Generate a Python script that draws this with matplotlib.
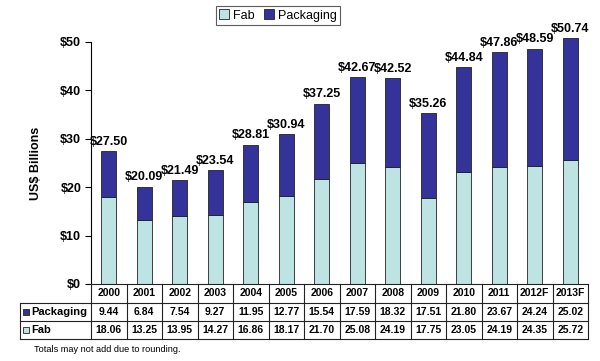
import matplotlib
matplotlib.use("Agg")
import matplotlib.pyplot as plt
from matplotlib.patches import Rectangle
from matplotlib.lines import Line2D

plt.rcParams['font.family'] = ['Liberation Sans', 'DejaVu Sans']

years = ["2000", "2001", "2002", "2003", "2004", "2005", "2006", "2007",
         "2008", "2009", "2010", "2011", "2012F", "2013F"]
packaging = [9.44, 6.84, 7.54, 9.27, 11.95, 12.77, 15.54, 17.59, 18.32,
             17.51, 21.80, 23.67, 24.24, 25.02]
fab = [18.06, 13.25, 13.95, 14.27, 16.86, 18.17, 21.70, 25.08, 24.19,
       17.75, 23.05, 24.19, 24.35, 25.72]
totals = ["$27.50", "$20.09", "$21.49", "$23.54", "$28.81", "$30.94", "$37.25",
          "$42.67", "$42.52", "$35.26", "$44.84", "$47.86", "$48.59", "$50.74"]
yticks = [0, 10, 20, 30, 40, 50]

FAB_C = "#bde3e3"
PKG_C = "#333399"

W, H = 600, 361
fig = plt.figure(figsize=(6, 3.61), dpi=100)

x_left, x_right = 91, 588
y0_px, y50_px = 284, 42
ax = fig.add_axes([x_left / W, 1 - y0_px / H, (x_right - x_left) / W, (y0_px - y50_px) / H])
n = len(years)
xs = list(range(n))
b1 = ax.bar(xs, fab, width=0.41, color=FAB_C, edgecolor="#222222", linewidth=0.6, label="Fab")
b2 = ax.bar(xs, packaging, width=0.41, bottom=fab, color=PKG_C, edgecolor="#222222", linewidth=0.6,
            label="Packaging")
for p in list(b1) + list(b2):
    p.set_clip_on(False)
for i in range(n):
    tot = fab[i] + packaging[i]
    ax.text(xs[i], tot + 0.7, totals[i], ha="center", va="bottom", fontsize=9,
            fontweight="bold", clip_on=False)
ax.set_xlim(-0.5, n - 0.5)
ax.set_ylim(0, 50)
ax.set_yticks(yticks)
ax.set_yticklabels([f"${v}" for v in yticks], fontsize=9, fontweight="bold")
ax.tick_params(axis="y", length=4, width=0.8, direction="out", pad=3)
ax.set_xticks([])
for s in ["top", "right", "bottom"]:
    ax.spines[s].set_visible(False)
ax.spines["left"].set_linewidth(0.8)
ax.set_ylabel("US$ Billions", fontsize=9, fontweight="bold", labelpad=13)
ax.patch.set_alpha(0)

# Legend
leg = fig.legend(handles=[Rectangle((0, 0), 1, 1, facecolor=FAB_C, edgecolor="#222222", linewidth=0.6),
                          Rectangle((0, 0), 1, 1, facecolor=PKG_C, edgecolor="#222222", linewidth=0.6)],
                 labels=["Fab", "Packaging"], loc="center",
                 bbox_to_anchor=(278 / W, 1 - 15.5 / H), ncol=2, fontsize=9,
                 frameon=True, fancybox=False, edgecolor="#333333", handlelength=0.8,
                 handleheight=0.8, handletextpad=0.3, columnspacing=0.8,
                 borderpad=0.25, borderaxespad=0)
leg.get_frame().set_linewidth(0.8)

# Table
col_w = (x_right - x_left) / n
row_y = [284, 303, 321, 339]
lab_left = 20

def fx(px):
    return px / W

def fy(py):
    return 1 - py / H

lc = "#222222"
lw = 0.8
fig.add_artist(Line2D([fx(x_left), fx(x_right)], [fy(row_y[0])] * 2, color=lc, lw=lw))
for ry in row_y[1:]:
    fig.add_artist(Line2D([fx(lab_left), fx(x_right)], [fy(ry)] * 2, color=lc, lw=lw))
fig.add_artist(Line2D([fx(lab_left)] * 2, [fy(row_y[1]), fy(row_y[3])], color=lc, lw=lw))
for i in range(n + 1):
    xp = x_left + i * col_w
    fig.add_artist(Line2D([fx(xp)] * 2, [fy(row_y[0]), fy(row_y[3])], color=lc, lw=lw))

for i in range(n):
    cx = x_left + (i + 0.5) * col_w
    fig.text(fx(cx), fy((row_y[0] + row_y[1]) / 2), years[i], ha="center", va="center",
             fontsize=7.5, fontweight="bold")
    fig.text(fx(cx), fy((row_y[1] + row_y[2]) / 2), f"{packaging[i]:.2f}", ha="center",
             va="center", fontsize=7.5, fontweight="bold")
    fig.text(fx(cx), fy((row_y[2] + row_y[3]) / 2), f"{fab[i]:.2f}", ha="center",
             va="center", fontsize=7.5, fontweight="bold")

row_labels = [("Packaging", PKG_C), ("Fab", FAB_C)]
for k, (lab, c) in enumerate(row_labels):
    yc = (row_y[k + 1] + row_y[k + 2]) / 2
    fig.add_artist(Rectangle((fx(23), fy(yc + 3.2)), 6.4 / W, 6.4 / H, facecolor=c,
                             edgecolor="#222222", linewidth=0.6))
    fig.text(fx(31.5), fy(yc), lab, ha="left", va="center", fontsize=8, fontweight="bold")

fig.text(fx(34), fy(350), "Totals may not add due to rounding.", ha="left", va="center",
         fontsize=6.6)

fig.savefig("out.png", dpi=100)
